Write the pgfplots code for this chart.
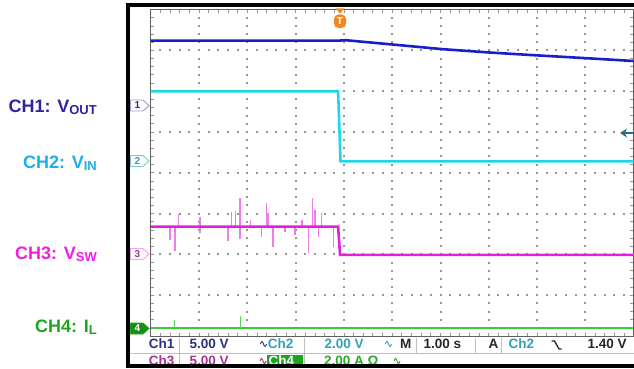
\documentclass[border=0pt]{standalone}
\usepackage{fontspec}
\setmainfont{Liberation Sans}
\usepackage{pgfplots}
\pgfplotsset{compat=1.18}
\usetikzlibrary{arrows.meta}
\definecolor{trOne}{RGB}{25,30,205}
\definecolor{trTwo}{RGB}{30,215,230}
\definecolor{trThree}{RGB}{230,30,220}
\definecolor{trThreeL}{RGB}{238,125,232}
\definecolor{trFour}{RGB}{50,205,50}
\definecolor{lbOne}{RGB}{45,35,160}
\definecolor{lbTwo}{RGB}{25,175,235}
\definecolor{lbThree}{RGB}{240,30,230}
\definecolor{lbFour}{RGB}{30,165,30}
\definecolor{stNavy}{RGB}{40,50,130}
\definecolor{stTeal}{RGB}{50,160,180}
\definecolor{stPurple}{RGB}{170,50,140}
\definecolor{stGreen}{RGB}{40,170,40}
\definecolor{gridgray}{RGB}{150,150,150}
\definecolor{trigOrange}{RGB}{240,135,35}
\begin{document}
\begin{tikzpicture}
% graticule (drawn below the traces)
\begin{scope}[x=1bp, y=-1bp, shift={(-150.7bp,336bp)}]
\foreach \k in {1,...,9} {
  \foreach \j in {1,...,39} {
    \fill[gridgray] ({round(150.7+48.3*\k)-0.8},{round(9.6+8.16*\j)-0.8}) rectangle ++(1.6,1.6);
  }
}
\foreach \k in {1,...,7} {
  \foreach \j in {1,...,49} {
    \fill[gridgray] ({round(150.7+9.66*\j)-0.8},{round(9.6+40.8*\k)-0.8}) rectangle ++(1.6,1.6);
  }
}
\foreach \j in {1,...,39} {
  \draw[gridgray, line width=0.8bp] (150.7,{9.6+8.16*\j}) -- ++(3.5,0);
  \draw[gridgray, line width=0.8bp] (633.7,{9.6+8.16*\j}) -- ++(-3.5,0);
}
\foreach \j in {1,...,49} {
  \draw[gridgray, line width=0.8bp] ({150.7+9.66*\j},9.6) -- ++(0,3.5);
  \draw[gridgray, line width=0.8bp] ({150.7+9.66*\j},336) -- ++(0,-3.5);
}
\end{scope}
\begin{axis}[
  at={(0,0)}, anchor=south west,
  scale only axis, width=483bp, height=326.4bp,
  xmin=0, xmax=10, ymin=0, ymax=8,
  xtick=\empty, ytick=\empty,
  axis line style={gray!75!black, line width=0.8bp},
  unbounded coords=jump,
]
% CH4: inductor current
\addplot[trFour, line width=2.6bp] coordinates {(0,0.20) (10,0.20)};
\addplot[trFour!80, line width=1bp] coordinates {(0.50,0.20) (0.50,0.39) (1.85,nan) (1.85,0.20) (1.85,0.50)};
% CH3: switch node, spikes
\addplot[trThreeL, line width=1.3bp] coordinates {
 (0.40,2.68) (0.40,2.35) (0.40,nan)
 (0.50,2.68) (0.50,2.09) (0.50,nan)
 (0.57,2.68) (0.57,2.99) (0.57,nan)
 (1.02,2.52) (1.02,2.92) (1.02,nan)
 (1.60,2.68) (1.60,2.34) (1.60,nan)
 (1.68,2.68) (1.68,3.05) (1.68,nan)
 (1.75,2.68) (1.75,3.07) (1.75,nan)
 (1.85,2.37) (1.85,3.38) (1.85,nan)
 (2.06,2.68) (2.06,2.84) (2.06,nan)
 (2.30,2.68) (2.30,2.43) (2.30,nan)
 (2.40,2.68) (2.40,3.27) (2.40,nan)
 (2.43,2.68) (2.43,3.01) (2.43,nan)
 (2.53,2.68) (2.53,2.19) (2.53,nan)
 (2.78,2.68) (2.78,2.55) (2.78,nan)
 (2.99,2.68) (2.99,2.48) (2.99,nan)
 (3.13,2.68) (3.13,2.84) (3.13,nan)
 (3.26,2.68) (3.26,2.04) (3.26,nan)
 (3.35,2.68) (3.35,3.38) (3.35,nan)
 (3.40,2.68) (3.40,3.09) (3.40,nan)
 (3.48,2.68) (3.48,2.43) (3.48,nan)
 (3.54,2.68) (3.54,3.02) (3.54,nan)
 (3.78,2.68) (3.78,2.19)
};
\addplot[trThree, line width=2.6bp] coordinates {(0,2.68) (3.88,2.68) (3.92,1.99) (10,1.99)};
% CH2: input voltage
\addplot[trTwo, line width=2.6bp] coordinates {(0,6.00) (3.88,6.00) (3.93,4.28) (10,4.28)};
% CH1: output voltage
\addplot[trOne, line width=2.6bp] coordinates {(0,7.24) (3.90,7.24) (4.04,7.25) (5.14,7.13) (6.05,7.03) (7.00,6.95) (7.83,6.89) (9.01,6.81) (10,6.74)};
\end{axis}
\begin{scope}[x=1bp, y=-1bp, shift={(-150.7bp,336bp)}]
% left labels
\node[anchor=base east, text=lbOne, font=\fontsize{18bp}{18bp}\selectfont\bfseries, inner sep=0] at (97,112.7) {CH1: V\raisebox{-2bp}{\fontsize{13bp}{13bp}\selectfont OUT}};
\node[anchor=base east, text=lbTwo, font=\fontsize{18bp}{18bp}\selectfont\bfseries, inner sep=0] at (97,168.3) {CH2: V\raisebox{-2bp}{\fontsize{13bp}{13bp}\selectfont IN}};
\node[anchor=base east, text=lbThree, font=\fontsize{18bp}{18bp}\selectfont\bfseries, inner sep=0] at (97,259) {CH3: V\raisebox{-2bp}{\fontsize{13bp}{13bp}\selectfont SW}};
\node[anchor=base east, text=lbFour, font=\fontsize{18bp}{18bp}\selectfont\bfseries, inner sep=0] at (97,332.3) {CH4: I\raisebox{-2bp}{\fontsize{13bp}{13bp}\selectfont L}};
% channel ground markers
\draw[draw=lbOne!45, fill=white, line width=0.9bp] (130.5,100) -- (143,100) -- (149,105.5) -- (143,111) -- (130.5,111) -- cycle;
\node[text=stNavy, font=\fontsize{10bp}{10bp}\selectfont\bfseries] at (137.5,105.5) {1};
\draw[draw=stTeal!60, fill=white, line width=0.9bp] (130.5,155.5) -- (143,155.5) -- (149,161) -- (143,166.5) -- (130.5,166.5) -- cycle;
\node[text=stTeal, font=\fontsize{10bp}{10bp}\selectfont\bfseries] at (137.5,161) {2};
\draw[draw=trThree!40, fill=white, line width=0.9bp] (130.5,248.5) -- (143,248.5) -- (149,254) -- (143,259.5) -- (130.5,259.5) -- cycle;
\node[text=stPurple, font=\fontsize{10bp}{10bp}\selectfont\bfseries] at (137.5,254) {3};
\draw[draw=lbFour, fill=lbFour!85!black, line width=0.9bp] (130.5,323) -- (143,323) -- (149,328.5) -- (143,334) -- (130.5,334) -- cycle;
\node[text=white, font=\fontsize{10bp}{10bp}\selectfont\bfseries] at (137.5,328.5) {4};
% trigger marker
\fill[trigOrange] (335.5,8.5) -- (344.5,8.5) -- (340,13.5) -- cycle;
\fill[trigOrange, rounded corners=4.5bp] (334,14.5) rectangle (346,28);
\node[text=white, font=\fontsize{10bp}{10bp}\selectfont\bfseries] at (340,21.5) {T};
% trigger level arrow
\draw[stTeal!70!black, line width=2bp, -{Stealth[length=7bp,width=9bp]}] (634,133) -- (620,133);
% status bar
\draw[gray!50, line width=0.6bp] (130,353) -- (634,353);
\draw[gray!50, line width=0.6bp] (179.3,338) -- (179.3,366);
\draw[gray!50, line width=0.6bp] (304,338) -- (304,366);
\draw[gray!50, line width=0.6bp] (416,338) -- (416,353);
\draw[gray!50, line width=0.6bp] (475,338) -- (475,353);
\draw[gray!50, line width=0.6bp] (501.7,338) -- (501.7,353);
\begin{scope}[every node/.style={anchor=base west, inner sep=0, font=\fontsize{13.5bp}{13.5bp}\selectfont\bfseries}]
\node[text=stNavy] at (148.7,348.5) {Ch1};
\node[text=stNavy] at (189.3,348.5) {5.00 V};
\node[text=stTeal] at (267.7,348.5) {Ch2};
\node[text=stTeal] at (324.3,348.5) {2.00 V};
\node[text=black!85] at (400,348.5) {M};
\node[text=black!85] at (423.3,348.5) {1.00 s};
\node[text=black!85] at (488.3,348.5) {A};
\node[text=stTeal] at (508.3,348.5) {Ch2};
\node[text=black!85] at (587.3,348.5) {1.40 V};
\node[text=stPurple] at (148.7,365.5) {Ch3};
\node[text=stPurple] at (189.3,365.5) {5.00 V};
\node[text=stGreen] at (324,365.5) {2.00 A Ω};
\end{scope}
\fill[lbFour] (266.5,354.5) rectangle (303,366);
\node[anchor=base west, inner sep=0, text=white, font=\fontsize{13.5bp}{13.5bp}\selectfont\bfseries] at (268.5,365.5) {Ch4};
% wave symbols
\draw[stNavy, line width=0.9bp] (260.5,344) sin (262,341.5) cos (263.5,344) sin (265,346.5) cos (266.5,344);
\draw[stTeal, line width=0.9bp] (385.5,344) sin (387,341.5) cos (388.5,344) sin (390,346.5) cos (391.5,344);
\draw[stPurple, line width=0.9bp] (260,361) sin (261.5,358.5) cos (263,361) sin (264.5,363.5) cos (266,361);
\draw[stGreen, line width=0.9bp] (394,361) sin (395.5,358.5) cos (397,361) sin (398.5,363.5) cos (400,361);
% falling edge symbol
\draw[black!85, line width=1.3bp] (551.5,341) -- (554.5,341) -- (559,349) -- (561.5,349);
% black frame
\fill[black] (126,3) rectangle (130,368);
\fill[black] (126,3) rectangle (634,7);
\fill[black] (126,364) rectangle (634,368);
\pgfresetboundingbox
\path[use as bounding box] (0,0) rectangle (634,368);
\end{scope}
\end{tikzpicture}
\end{document}
